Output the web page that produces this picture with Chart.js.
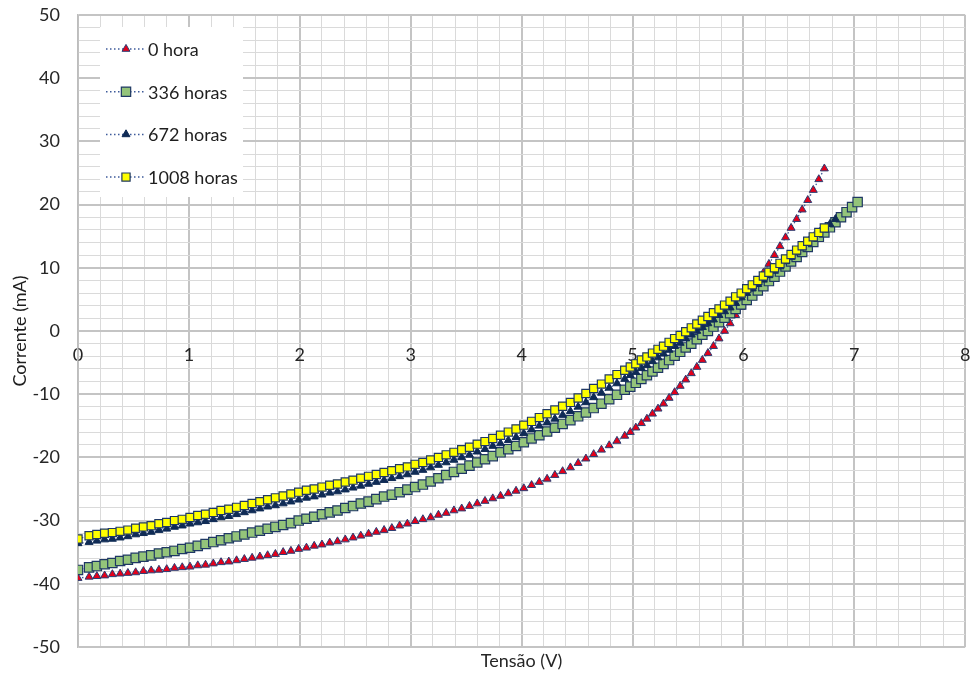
<!DOCTYPE html>
<html><head><meta charset="utf-8">
<script src="https://cdn.jsdelivr.net/npm/chart.js@4.4.1/dist/chart.umd.min.js"></script>
<style>html,body{margin:0;padding:0;background:#fff;}#wrap{width:973px;height:675px;}</style>
</head><body><div id="wrap"><canvas id="c" width="973" height="675"></canvas></div>
<script>
// Tensão (V) – shared voltage readings
const tensao = [0,
0.10,0.17,0.24,0.31,0.38,0.45,0.52,0.59,0.66,0.73,
0.80,0.87,0.94,1.01,1.08,1.15,1.22,1.29,1.36,1.43,
1.50,1.57,1.64,1.71,1.78,1.85,1.92,1.99,2.06,2.13,
2.20,2.27,2.34,2.41,2.48,2.55,2.62,2.69,2.76,2.83,
2.90,2.97,3.04,3.11,3.18,3.25,3.32,3.39,3.46,3.53,
3.60,3.67,3.74,3.81,3.88,3.95,4.02,4.09,4.16,4.23,
4.30,4.37,4.44,4.51,4.58,4.65,4.72,4.79,4.86,4.93,
4.98,5.03,5.08,5.13,5.18,5.23,5.28,5.33,5.38,5.43,
5.48,5.53,5.58,5.63,5.68,5.73,5.78,5.83,5.88,5.93,
5.98,6.03,6.08,6.13,6.18,6.23,6.28,6.33,6.38,6.43,
6.48,6.53,6.58,6.63,6.68,6.73,
6.78,6.83,6.88,6.93,6.98,7.03];

// Corrente (mA) – 0 hora
const corrente0h = [-39.1,
-38.9,-38.8,-38.7,-38.5,-38.4,-38.3,-38.2,-38.0,-37.9,-37.8,
-37.7,-37.5,-37.4,-37.3,-37.1,-37.0,-36.8,-36.6,-36.5,-36.3,
-36.1,-35.9,-35.7,-35.5,-35.3,-35.0,-34.8,-34.5,-34.3,-34.0,
-33.8,-33.5,-33.3,-33.0,-32.7,-32.4,-32.1,-31.8,-31.5,-31.2,
-30.8,-30.5,-30.1,-29.8,-29.5,-29.1,-28.8,-28.4,-28.1,-27.7,
-27.3,-26.9,-26.5,-26.1,-25.7,-25.3,-24.9,-24.4,-23.9,-23.4,
-22.8,-22.2,-21.6,-20.9,-20.2,-19.5,-18.8,-18.1,-17.4,-16.6,
-16.0,-15.3,-14.6,-13.9,-13.1,-12.3,-11.5,-10.6,-9.7,-8.7,
-7.7,-6.7,-5.7,-4.6,-3.5,-2.4,-1.2,0.0,1.2,2.5,
3.8,5.1,6.5,7.8,9.2,10.6,12.0,13.4,14.8,16.3,
17.7,19.2,20.7,22.3,24.0,25.7];

// Corrente (mA) – 336 horas
const corrente336h = [-37.8,
-37.4,-37.2,-36.9,-36.7,-36.4,-36.2,-35.9,-35.7,-35.5,-35.2,
-35.0,-34.8,-34.5,-34.3,-34.0,-33.7,-33.4,-33.1,-32.8,-32.5,
-32.2,-31.9,-31.6,-31.3,-31.0,-30.7,-30.4,-30.0,-29.7,-29.4,
-29.0,-28.7,-28.4,-28.0,-27.7,-27.3,-27.0,-26.6,-26.2,-25.9,
-25.5,-25.1,-24.7,-24.3,-23.8,-23.3,-22.8,-22.3,-21.8,-21.3,
-20.8,-20.3,-19.8,-19.2,-18.7,-18.2,-17.6,-17.0,-16.5,-15.9,
-15.3,-14.7,-14.1,-13.5,-12.9,-12.2,-11.5,-10.8,-10.1,-9.3,
-8.8,-8.2,-7.6,-7.0,-6.4,-5.8,-5.2,-4.6,-3.9,-3.3,
-2.6,-2.0,-1.3,-0.6,0.0,0.7,1.4,2.1,2.8,3.5,
4.2,4.9,5.6,6.4,7.1,7.9,8.6,9.4,10.2,11.0,
11.7,12.5,13.3,14.1,14.9,15.6,
16.4,17.2,18.0,18.8,19.6,20.4];

// Corrente (mA) – 672 horas
const corrente672h = [-33.6,
-33.4,-33.2,-33.0,-32.9,-32.7,-32.5,-32.2,-32.0,-31.8,-31.5,
-31.3,-31.0,-30.8,-30.5,-30.3,-30.1,-29.8,-29.5,-29.3,-29.0,
-28.7,-28.4,-28.1,-27.8,-27.6,-27.3,-27.0,-26.7,-26.4,-26.2,
-25.9,-25.6,-25.4,-25.1,-24.8,-24.5,-24.2,-23.9,-23.6,-23.3,
-23.0,-22.7,-22.3,-22.0,-21.6,-21.2,-20.8,-20.4,-20.0,-19.6,
-19.1,-18.7,-18.2,-17.8,-17.3,-16.8,-16.2,-15.6,-15.0,-14.5,
-13.9,-13.3,-12.7,-12.0,-11.3,-10.5,-9.8,-9.0,-8.3,-7.6,
-7.0,-6.5,-5.9,-5.4,-4.8,-4.2,-3.6,-3.0,-2.4,-1.9,
-1.2,-0.6,0.0,0.6,1.2,1.8,2.5,3.1,3.7,4.4,
5.3,6.0,6.7,7.4,8.1,8.8,9.5,10.2,11.0,11.7,
12.4,13.2,13.9,14.6,15.4,16.1,
16.9,17.7];

// Corrente (mA) – 1008 horas
const corrente1008h = [-32.9,
-32.4,-32.2,-32.0,-31.9,-31.7,-31.5,-31.2,-31.0,-30.8,-30.5,
-30.3,-30.0,-29.8,-29.5,-29.2,-29.0,-28.7,-28.4,-28.2,-27.9,
-27.6,-27.3,-27.0,-26.7,-26.4,-26.1,-25.8,-25.5,-25.2,-25.0,
-24.7,-24.4,-24.2,-23.9,-23.6,-23.3,-23.0,-22.7,-22.4,-22.1,
-21.8,-21.5,-21.1,-20.8,-20.4,-20.0,-19.6,-19.2,-18.8,-18.4,
-17.9,-17.5,-17.0,-16.5,-16.0,-15.5,-14.9,-14.3,-13.7,-13.1,
-12.5,-11.9,-11.3,-10.6,-9.9,-9.1,-8.4,-7.6,-6.9,-6.2,
-5.7,-5.2,-4.6,-4.1,-3.5,-2.9,-2.4,-1.8,-1.2,-0.7,
-0.1,0.5,1.1,1.7,2.3,2.9,3.5,4.1,4.7,5.4,
6.0,6.7,7.3,8.0,8.7,9.3,10.0,10.7,11.4,12.1,
12.8,13.5,14.2,14.9,15.6,16.3];

const seriesNames = ['0 hora', '336 horas', '672 horas', '1008 horas'];
const xAxisTitle = 'Tensão (V)';
const yAxisTitle = 'Corrente (mA)';

const FONT = 'Lato, "Open Sans", "Liberation Sans", sans-serif';
Chart.defaults.font.family = FONT;
Chart.defaults.color = '#262626';

const LINE = '#3d5a9a';
const NAVY = '#1f3864';

const styles = [
  {pointStyle:'triangle', pointRadius:4.6, pointBackgroundColor:'#e4001a', pointBorderColor:'#2b3d73', pointBorderWidth:1, order:4},
  {pointStyle:'rect', pointRadius:6.6, pointBackgroundColor:'#94c47a', pointBorderColor:NAVY, pointBorderWidth:1.2, order:3},
  {pointStyle:'triangle', pointRadius:4.6, pointBackgroundColor:'#0f2b55', pointBorderColor:'#0f2b55', pointBorderWidth:1, order:2},
  {pointStyle:'rect', pointRadius:5.8, pointBackgroundColor:'#ffff00', pointBorderColor:NAVY, pointBorderWidth:1.2, order:1}
];
const currents = [corrente0h, corrente336h, corrente672h, corrente1008h];

const datasets = currents.map((ys, k) => Object.assign({
  label: seriesNames[k],
  data: ys.map((y, i) => ({x: tensao[i], y})),
  showLine: true,
  borderColor: LINE,
  borderWidth: 1.3,
  borderDash: [1.5, 2.5],
  tension: 0,
  pointHoverRadius: 0,
  xAxisID: 'x', yAxisID: 'y'
}, styles[k]));

function drawMarker(ctx, st, x, y) {
  const r = st.pointRadius;
  ctx.save();
  ctx.setLineDash([]);
  ctx.fillStyle = st.pointBackgroundColor;
  ctx.strokeStyle = st.pointBorderColor;
  ctx.lineWidth = st.pointBorderWidth;
  ctx.beginPath();
  if (st.pointStyle === 'triangle') {
    ctx.moveTo(x, y - r);
    ctx.lineTo(x + 0.866 * r, y + 0.5 * r);
    ctx.lineTo(x - 0.866 * r, y + 0.5 * r);
    ctx.closePath();
  } else {
    const h = r * Math.SQRT1_2;
    ctx.rect(x - h, y - h, 2 * h, 2 * h);
  }
  ctx.fill();
  ctx.stroke();
  ctx.restore();
}

const legendBox = {
  id: 'legendBox',
  afterDatasetsDraw(chart) {
    const ctx = chart.ctx;
    const a = chart.chartArea;
    const bx = a.left + 22, by = a.top + 12, bw = 143, bh = 170;
    ctx.save();
    ctx.fillStyle = '#ffffff';
    ctx.fillRect(bx, by, bw, bh);
    seriesNames.forEach((name, i) => {
      const cy = by + 22 + i * 42.7;
      ctx.save();
      ctx.strokeStyle = LINE;
      ctx.lineWidth = 1.5;
      ctx.setLineDash([1.5, 2.5]);
      ctx.beginPath();
      ctx.moveTo(bx + 6, cy);
      ctx.lineTo(bx + 44, cy);
      ctx.stroke();
      ctx.restore();
      drawMarker(ctx, styles[i], bx + 26, cy);
      ctx.fillStyle = '#1e1e1e';
      ctx.font = '18px ' + FONT;
      ctx.textBaseline = 'middle';
      ctx.textAlign = 'left';
      ctx.fillText(name, bx + 48, cy + 1);
    });
    ctx.restore();
  }
};

const isMajorX = c => c.tick && Math.abs(c.tick.value - Math.round(c.tick.value)) < 1e-6;
const isMajorY = c => c.tick && Math.abs(c.tick.value / 10 - Math.round(c.tick.value / 10)) < 1e-6;

new Chart(document.getElementById('c'), {
  type: 'scatter',
  data: {datasets},
  plugins: [legendBox],
  options: {
    responsive: false,
    animation: false,
    events: [],
    layout: {padding: {top: 15, right: 6, left: 0, bottom: 0}},
    plugins: {legend: {display: false}, tooltip: {enabled: false}},
    scales: {
      x: {
        type: 'linear', position: 'bottom', min: 0, max: 8,
        ticks: {display: false, stepSize: 0.2, autoSkip: false, padding: 0},
        grid: {drawTicks: false,
          color: c => isMajorX(c) ? '#c4c4c4' : '#dadada',
          lineWidth: c => isMajorX(c) ? 2 : 1},
        border: {display: false},
        title: {display: true, text: xAxisTitle, font: {size: 18}, color: '#262626', padding: {top: 0, bottom: 3}},
        afterFit(s) { s.height = 28; }
      },
      x2: {
        type: 'linear', axis: 'x', position: {y: 0}, min: 0, max: 8,
        ticks: {stepSize: 1, padding: 0, font: {size: 18}, color: '#262626'},
        grid: {display: false, drawTicks: true, tickLength: 13, tickColor: 'rgba(0,0,0,0)'},
        border: {display: false}
      },
      y: {
        type: 'linear', position: 'left', min: -50, max: 50,
        ticks: {stepSize: 2, autoSkip: false, padding: 0, font: {size: 18}, color: '#262626',
          callback: v => (Math.abs(v / 10 - Math.round(v / 10)) < 1e-6 ? String(Math.round(v)) : '')},
        grid: {drawTicks: true, tickLength: 18, tickColor: 'rgba(0,0,0,0)',
          color: c => isMajorY(c) ? '#c4c4c4' : '#dadada',
          lineWidth: c => isMajorY(c) ? 2 : 1},
        border: {display: true, color: '#bdbdbd', width: 1.5},
        title: {display: true, text: yAxisTitle, font: {size: 18}, color: '#1e1e1e', padding: {top: 9, bottom: 0}},
        afterFit(s) { s.width = 78; }
      }
    }
  }
});
</script>
</body></html>
